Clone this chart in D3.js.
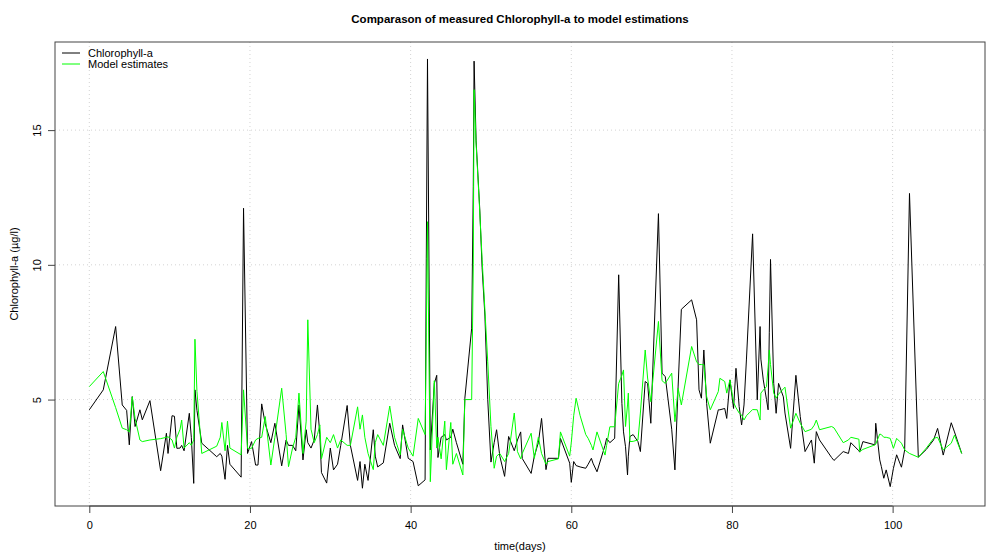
<!DOCTYPE html>
<html>
<head>
<meta charset="utf-8">
<script src="https://cdn.jsdelivr.net/npm/d3@7"></script>
<style>
  body { margin: 0; background: #fff; }
  text { font-family: "Liberation Sans", Arial, sans-serif; }
</style>
</head>
<body>
<div class="myLine"></div>
<script>
// time points (days) shared by both series
var days = [
  0.0, 1.74, 3.28, 4.1, 4.65, 4.98, 5.35, 5.7, 6.3, 6.6, 7.55, 8.88, 9.6, 9.8,
  10.3, 10.6, 10.9, 11.3, 11.5, 11.8, 12.45, 12.7, 13.0, 13.15, 13.4, 14.0,
  15.86, 16.3, 16.5, 16.9, 17.2, 17.5, 18.9, 19.2, 19.7, 20.2, 20.7, 21.0,
  21.46, 21.9, 22.6, 23.1, 23.95, 24.5, 24.8, 25.3, 25.7, 26.1, 26.6, 27.0,
  27.2, 27.6, 28.0, 28.4, 28.7, 28.9, 29.55, 30.0, 30.4, 30.9, 31.3, 32.1,
  32.5, 33.4, 33.7, 34.0, 34.3, 34.7, 35.35, 35.6, 35.9, 36.6, 37.4, 38.0,
  38.7, 39.0, 39.7, 40.3, 40.95, 41.8, 41.95, 42.1, 42.45, 42.95, 43.25, 43.4, 43.8,
  44.25, 44.45, 45.0, 45.25, 45.7, 46.5, 46.75, 47.6, 47.8, 47.9, 48.15, 48.6,
  48.9, 49.25, 49.6, 50.0, 50.4, 50.7, 51.1, 51.7, 52.2, 52.9, 53.3, 53.7,
  53.9, 55.0, 55.4, 55.9, 56.3, 56.85, 57.1, 58.4, 58.65, 59.8, 60.0, 60.3,
  60.6, 61.1, 61.8, 62.1, 62.5, 62.7, 63.2, 64.2, 64.4, 64.8, 65.4, 65.9,
  66.3, 66.5, 66.75, 67.0, 67.1, 67.3, 67.7, 68.3, 68.6, 69.2, 69.5, 69.9,
  70.85, 71.3, 71.7, 72.5, 72.9, 73.3, 73.7, 74.98, 75.6, 75.9, 76.2, 76.5,
  76.85, 77.3, 78.3, 78.5, 79.1, 79.35, 79.75, 80.2, 80.5, 80.9, 81.2, 81.5,
  81.8, 82.57, 83.15, 83.5, 83.6, 83.9, 84.3, 84.5, 84.65, 84.8, 85.2, 85.5,
  85.8, 86.4, 86.6, 87.3, 87.96, 88.5, 89.1, 89.9, 90.25, 90.5, 90.9, 92.4,
  92.7, 93.85, 94.5, 94.8, 95.8, 95.9, 96.3, 97.8, 97.9, 98.4, 98.6, 98.9,
  99.2, 99.7, 100.1, 100.5, 100.9, 101.1, 101.5, 102.1, 103.2, 104.2, 105.1,
  105.6, 106.3, 107.3, 107.7, 108.6
]

// measured chlorophyll-a (ug/l)
var chlorophyll = [
  4.62, 5.36, 7.71, 4.8, 4.6, 3.32, 5.11, 4.0, 4.62, 4.25, 4.96, 2.36, 3.75, 3.0,
  4.4, 4.38, 3.19, 3.2, 3.3, 3.1, 4.49, 3.6, 1.89, 5.36, 4.6, 3.38,
  2.88, 3.0, 2.9, 2.04, 3.3, 2.6, 2.12, 12.1, 3.0, 3.44, 2.57, 2.57,
  4.84, 4.1, 3.4, 4.12, 2.54, 3.5, 3.3, 3.3, 3.1, 4.8, 2.76, 3.88,
  3.4, 3.2, 3.5, 4.8, 3.7, 2.29, 1.9, 3.2, 2.39, 2.6, 3.3, 4.78,
  3.3, 2.0, 2.7, 1.71, 2.6, 2.0, 3.88, 2.9, 2.5, 2.65, 4.12, 3.3,
  2.81, 4.06, 2.82, 2.7, 1.8, 2.02, 10.25, 17.64, 3.13, 5.6, 5.9, 2.85, 3.6,
  3.7, 3.5, 3.6, 3.9, 3.4, 2.6, 5.05, 7.65, 12.9, 17.56, 14.6, 12.1,
  9.9, 8.1, 5.0, 2.68, 3.4, 3.88, 2.9, 2.15, 3.63, 3.1, 3.5, 3.8,
  2.81, 2.26, 2.9, 3.4, 4.3, 2.4, 2.82, 2.82, 3.56, 2.64, 1.93, 2.7,
  2.55, 2.5, 2.45, 2.6, 2.82, 2.64, 2.32, 3.3, 3.56, 3.4, 3.56, 9.63,
  4.86, 3.8, 3.25, 2.2, 2.9, 3.63, 3.7, 3.44, 3.07, 5.67, 5.6, 4.12,
  11.9, 5.98, 5.85, 3.9, 2.39, 5.5, 8.35, 8.7, 7.96, 5.36, 5.05, 6.84,
  4.86, 3.38, 4.62, 4.62, 4.67, 4.3, 5.73, 4.67, 6.16, 4.74, 4.06, 4.8,
  6.47, 11.15, 4.99, 7.71, 6.5, 5.73, 5.0, 4.62, 7.5, 10.2, 5.6, 4.49,
  5.6, 5.1, 4.5, 3.19, 5.9, 4.37, 3.07, 3.5, 2.64, 3.81, 3.5, 2.85,
  2.74, 3.07, 3.0, 3.4, 3.1, 3.05, 3.44, 3.32, 4.12, 2.76, 2.51, 2.08,
  2.39, 1.77, 2.45, 2.95, 2.64, 2.49, 3.13, 12.65, 2.86, 3.15, 3.5,
  3.93, 2.94, 4.14, 3.8, 3.0
]

// model estimates (ug/l)
var model = [
  5.48, 6.04, 4.7, 3.94, 3.88, 3.8, 5.1, 4.3, 3.5, 3.44, 3.5, 3.55, 3.6, 3.62,
  3.5, 3.2, 3.6, 3.9, 4.24, 3.2, 3.4, 3.3, 3.5, 7.24, 5.3, 3.0,
  3.27, 3.6, 4.15, 3.1, 4.2, 3.2, 2.95, 5.36, 3.19, 3.19, 3.5, 3.56,
  3.6, 4.37, 2.57, 3.6, 5.42, 3.7, 2.51, 3.2, 3.6, 5.24, 3.0, 4.2,
  7.96, 3.9, 3.4, 3.7, 4.06, 2.8, 3.6, 3.4, 3.7, 3.2, 3.5, 3.3,
  3.3, 4.73, 3.9, 4.43, 3.6, 3.0, 2.4, 3.4, 3.7, 3.3, 4.76, 3.6,
  2.95, 3.9, 3.2, 2.9, 4.3, 3.7, 7.5, 11.6, 1.95, 5.7, 3.2, 3.6, 2.8,
  4.2, 2.4, 4.15, 2.6, 3.0, 2.2, 5.0, 5.0, 10.0, 16.5, 14.5, 12.0,
  10.2, 8.3, 6.4, 4.0, 2.45, 2.9, 3.0, 2.7, 3.0, 4.5, 3.07, 2.8,
  3.0, 3.75, 2.82, 3.6, 3.0, 2.6, 2.7, 2.8, 3.8, 2.9, 3.4, 4.4,
  5.05, 4.4, 3.7, 3.56, 3.3, 3.13, 3.8, 2.94, 3.3, 3.99, 3.99, 5.6,
  5.9, 6.1, 4.0, 4.8, 5.24, 3.44, 3.45, 3.5, 4.5, 6.84, 5.8, 4.92,
  7.9, 5.7, 5.6, 5.98, 4.18, 5.42, 4.8, 6.97, 6.4, 6.3, 6.3, 6.29,
  5.11, 4.62, 5.3, 5.79, 5.67, 5.24, 5.73, 4.9, 4.7, 4.5, 4.43, 4.24,
  4.4, 4.63, 4.62, 4.24, 5.24, 5.35, 5.48, 6.2, 6.84, 6.3, 5.24, 5.05,
  5.2, 5.4, 5.46, 3.94, 4.49, 4.12, 3.81, 3.9, 4.05, 4.24, 3.88, 4.0,
  3.95, 3.4, 3.5, 3.6, 3.53, 3.07, 3.15, 3.32, 3.35, 3.72, 3.7, 3.6,
  3.6, 3.56, 3.19, 3.56, 3.44, 3.38, 3.13, 3.0, 2.86, 3.2, 3.56,
  3.6, 3.13, 3.38, 3.68, 3.0
]

var xTicks = [0, 20, 40, 60, 80, 100]
var yTicks = [5, 10, 15]
var seriesNames = ['Chlorophyll-a', 'Model estimates']
var seriesColors = ['#000000', '#00ff00']

var width = 986
var height = 552
var plotLeft = 55, plotRight = 985, plotTop = 42, plotBottom = 506

var svg = d3.select('.myLine')
    .append('svg')
    .attr('width', width)
    .attr('height', height)
    .style('background-color', '#ffffff')

// R style padded domains
var xScale = d3.scaleLinear().domain([-4.27, 111.5]).range([plotLeft, plotRight])
var yScale = d3.scaleLinear().domain([1.05, 18.27]).range([plotBottom, plotTop])

// grid
svg.append('g').selectAll('line')
    .data(xTicks).enter().append('line')
    .attr('x1', (d) => xScale(d)).attr('x2', (d) => xScale(d))
    .attr('y1', plotTop).attr('y2', plotBottom)
    .attr('stroke', '#d3d3d3').attr('stroke-dasharray', '1,3')
svg.append('g').selectAll('line')
    .data(yTicks).enter().append('line')
    .attr('x1', plotLeft).attr('x2', plotRight)
    .attr('y1', (d) => yScale(d)).attr('y2', (d) => yScale(d))
    .attr('stroke', '#d3d3d3').attr('stroke-dasharray', '1,3')

// lines
var lineFor = (vals) => d3.line()
    .x((d, i) => xScale(days[i]))
    .y((d) => yScale(d))(vals)

svg.append('path').attr('d', lineFor(chlorophyll))
    .attr('fill', 'none').attr('stroke', seriesColors[0]).attr('stroke-width', 1)
svg.append('path').attr('d', lineFor(model))
    .attr('fill', 'none').attr('stroke', seriesColors[1]).attr('stroke-width', 1)

// frame
svg.append('rect')
    .attr('x', plotLeft).attr('y', plotTop)
    .attr('width', plotRight - plotLeft).attr('height', plotBottom - plotTop)
    .attr('fill', 'none').attr('stroke', '#444').attr('stroke-width', 1)

// axes
const xAxis = d3.axisBottom(xScale).tickValues(xTicks).tickSize(7).tickPadding(8)
var gx = svg.append('g').attr('class', 'xAxis').attr('transform', `translate(0, ${plotBottom})`).call(xAxis)
gx.select('.domain').attr('d', `M${xScale(0)},0H${xScale(100)}`).attr('stroke', '#444')
gx.selectAll('line').attr('stroke', '#444')
gx.selectAll('text').style('font-size', '11px').attr('fill', '#000')

const yAxis = d3.axisLeft(yScale).tickValues(yTicks).tickSize(7)
var gy = svg.append('g').attr('class', 'yAxis').attr('transform', `translate(${plotLeft}, 0)`).call(yAxis)
gy.select('.domain').remove()
gy.selectAll('line').attr('stroke', '#444')
gy.selectAll('text')
    .style('font-size', '11px').attr('fill', '#000')
    .attr('x', null).attr('dy', null)
    .attr('text-anchor', 'middle')
    .attr('transform', 'translate(-14,0) rotate(-90)')

// titles
svg.append('text')
    .attr('x', (plotLeft + plotRight) / 2).attr('y', 23)
    .attr('text-anchor', 'middle')
    .style('font-size', '11.5px').style('font-weight', 'bold')
    .text('Comparason of measured Chlorophyll-a to model estimations')
svg.append('text')
    .attr('x', (plotLeft + plotRight) / 2).attr('y', 550)
    .attr('text-anchor', 'middle')
    .style('font-size', '11px')
    .text('time(days)')
svg.append('text')
    .attr('transform', `translate(18, ${(plotTop + plotBottom) / 2}) rotate(-90)`)
    .attr('text-anchor', 'middle')
    .style('font-size', '11px')
    .text('Chlorophyll-a (µg/l)')

// legend
var legend = svg.append('g').selectAll('g')
    .data(seriesNames).enter().append('g')
    .attr('transform', (d, i) => `translate(62, ${53 + i * 11})`)
legend.append('line')
    .attr('x1', 0).attr('x2', 18)
    .attr('stroke', (d, i) => seriesColors[i])
legend.append('text')
    .attr('x', 26).attr('y', 4)
    .style('font-size', '11px')
    .text((d) => d)
</script>
</body>
</html>
